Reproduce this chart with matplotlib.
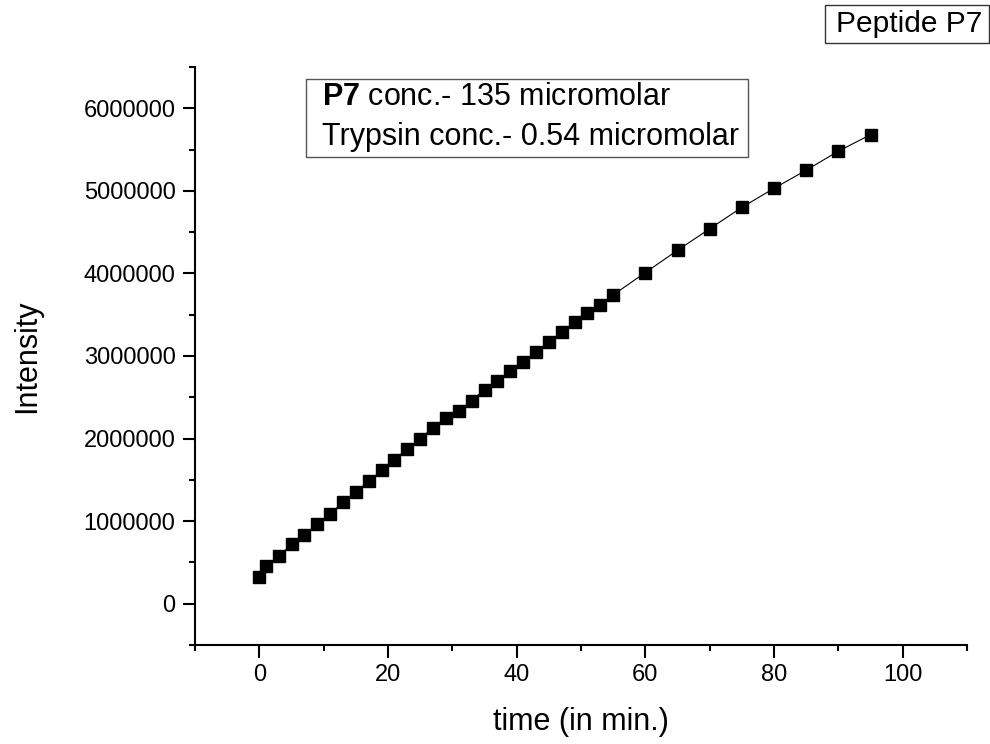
import matplotlib
matplotlib.use("Agg")
import matplotlib.pyplot as plt
from matplotlib.ticker import FixedLocator
from matplotlib.patches import Rectangle

plt.rcParams['font.family'] = ['Liberation Sans', 'DejaVu Sans']
plt.rcParams['mathtext.fontset'] = 'custom'
plt.rcParams['mathtext.rm'] = 'Liberation Sans'
plt.rcParams['mathtext.bf'] = 'Liberation Sans:bold'

time_min = [0, 1, 3, 5, 7, 9, 11, 13, 15, 17, 19, 21, 23, 25, 27, 29, 31, 33, 35,
            37, 39, 41, 43, 45, 47, 49, 51, 53, 55, 60, 65, 70, 75, 80, 85, 90, 95]
intensity = [327000, 461000, 573000, 719000, 836000, 966000, 1091000, 1228000,
             1354000, 1482000, 1616000, 1742000, 1879000, 1996000, 2133000,
             2251000, 2330000, 2460000, 2590000, 2700000, 2820000, 2930000,
             3050000, 3170000, 3290000, 3410000, 3520000, 3620000, 3740000,
             4010000, 4280000, 4540000, 4800000, 5030000, 5250000, 5480000,
             5680000]

x_ticks = [0, 20, 40, 60, 80, 100]
y_ticks = [0, 1000000, 2000000, 3000000, 4000000, 5000000, 6000000]

fig = plt.figure(figsize=(9.9, 7.44), dpi=100)
ax = fig.add_axes([0.197, 0.1331, 0.7798, 0.7769])

ax.plot(time_min, intensity, color='black', linewidth=0.8, marker='s',
        markersize=8.6, markerfacecolor='black', markeredgecolor='black')

ax.set_xlim(-10, 110)
ax.set_ylim(-500000, 6500000)
ax.xaxis.set_major_locator(FixedLocator(x_ticks))
ax.xaxis.set_minor_locator(FixedLocator([-10, 10, 30, 50, 70, 90, 110]))
ax.yaxis.set_major_locator(FixedLocator(y_ticks))
ax.yaxis.set_minor_locator(FixedLocator([-500000, 500000, 1500000, 2500000, 3500000,
                                         4500000, 5500000, 6500000]))
ax.set_xticklabels([str(v) for v in x_ticks])
ax.set_yticklabels([str(v) for v in y_ticks])

for s in ['top', 'right']:
    ax.spines[s].set_visible(False)
for s in ['left', 'bottom']:
    ax.spines[s].set_linewidth(1.5)

ax.tick_params(which='major', direction='out', length=9, width=1.5,
               labelsize=17, pad=5)
ax.tick_params(which='minor', direction='out', length=4.5, width=1.5)

ax.set_xlabel('time (in min.)', fontsize=22, labelpad=15)
ax.set_ylabel('Intensity', fontsize=22, labelpad=30)

# annotation box
fig.patches.append(Rectangle((306 / 990, 1 - 157 / 744), (748 - 306) / 990,
                             (157 - 79) / 744, transform=fig.transFigure,
                             fill=False, edgecolor='#555555', linewidth=1.0))
fig.text(322 / 990, 1 - 97 / 744, r'$\mathbf{P7}$ conc.- 135 micromolar',
         fontsize=22, va='center', ha='left')
fig.text(322 / 990, 1 - 137 / 744, 'Trypsin conc.- 0.54 micromolar',
         fontsize=22, va='center', ha='left')

fig.patches.append(Rectangle((825 / 990, 1 - 43 / 744), (989 - 825) / 990,
                             (43 - 5) / 744, transform=fig.transFigure,
                             fill=False, edgecolor='#333333', linewidth=1.0))
fig.text(909 / 990, 1 - 24 / 744, 'Peptide P7', fontsize=21.5, va='center',
         ha='center')

fig.savefig('out.png', dpi=100)
